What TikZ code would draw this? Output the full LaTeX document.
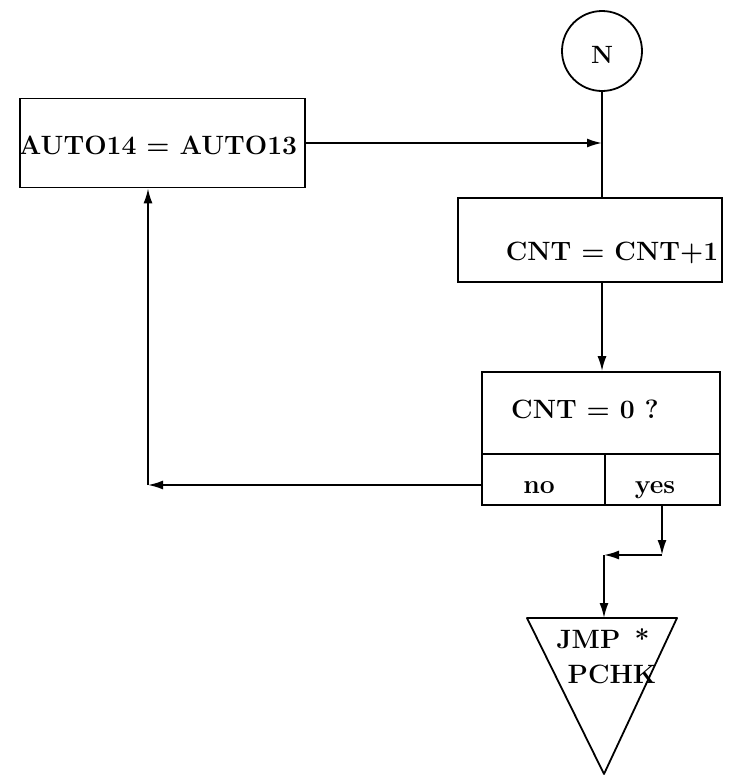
\documentclass[tikz,border=0pt]{standalone}
\usetikzlibrary{arrows.meta,calc}
\begin{document}
\begin{tikzpicture}[x=1pt,y=-1pt, line width=1.8pt,
  box/.style={draw, rectangle, inner sep=0pt},
  lbl/.style={font=\fontsize{26.5}{29}\selectfont\bfseries, inner sep=0pt, anchor=base},
  arr/.style={-{Latex[length=15pt,width=9pt]}}]
\useasboundingbox (0,0) rectangle (741,777);
% boxes
\node[box, minimum width=285pt, minimum height=89pt] (auto) at (162.5,143) {};
\node[lbl] (autot) at (158,154) {AUTO14 = AUTO13};
\node[draw, circle, minimum size=80pt, inner sep=0pt] (N) at (602,51) {};
\node[lbl, font=\fontsize{25}{27}\selectfont\bfseries] (Nt) at (602,63) {N};
\node[box, minimum width=264pt, minimum height=84pt] (cnt) at (590,240) {};
\node[lbl] (cntt) at (612,260) {CNT = CNT+1};
\node[box, minimum width=238pt, minimum height=133pt] (dec) at (601,438.5) {};
\coordinate (d1) at (482,454);
\coordinate (d2) at (720,454);
\draw (d1) -- (d2);
\coordinate (d3) at (605,454);
\draw (d3) -- (d3 |- dec.south);
\node[lbl] (q) at (585,418) {CNT = 0 ?};
\node[lbl] (no) at (539,493) {no};
\node[lbl] (yes) at (655,493) {yes};
% triangle
\coordinate (tl) at (527,618);
\coordinate (tr) at (677,618);
\coordinate (tb) at (604,774);
\draw[line join=round] (tl) -- (tr) -- (tb) -- cycle;
\node[lbl] (jmp) at (603,648) {JMP\, *};
\node[lbl] (pchk) at (612,683) {PCHK};
% connectors
\coordinate (j1) at (602,143);
\draw[arr] (auto.east) -- (j1);
\draw (N.south) -- (N.south |- cnt.north);
\draw[arr] (N.south |- cnt.south) -- (N.south |- dec.north);
\coordinate (c1) at (148,485);
\draw[arr] (dec.west |- c1) -- (c1);
\draw[arr] (c1) -- (c1 |- auto.south);
\coordinate (y1) at (662,555);
\coordinate (y2) at (604,555);
\draw[arr] (y1 |- dec.south) -- (y1);
\draw[arr] (y1) -- (y2);
\draw[arr] (y2) -- (y2 |- tl);
\end{tikzpicture}
\end{document}
